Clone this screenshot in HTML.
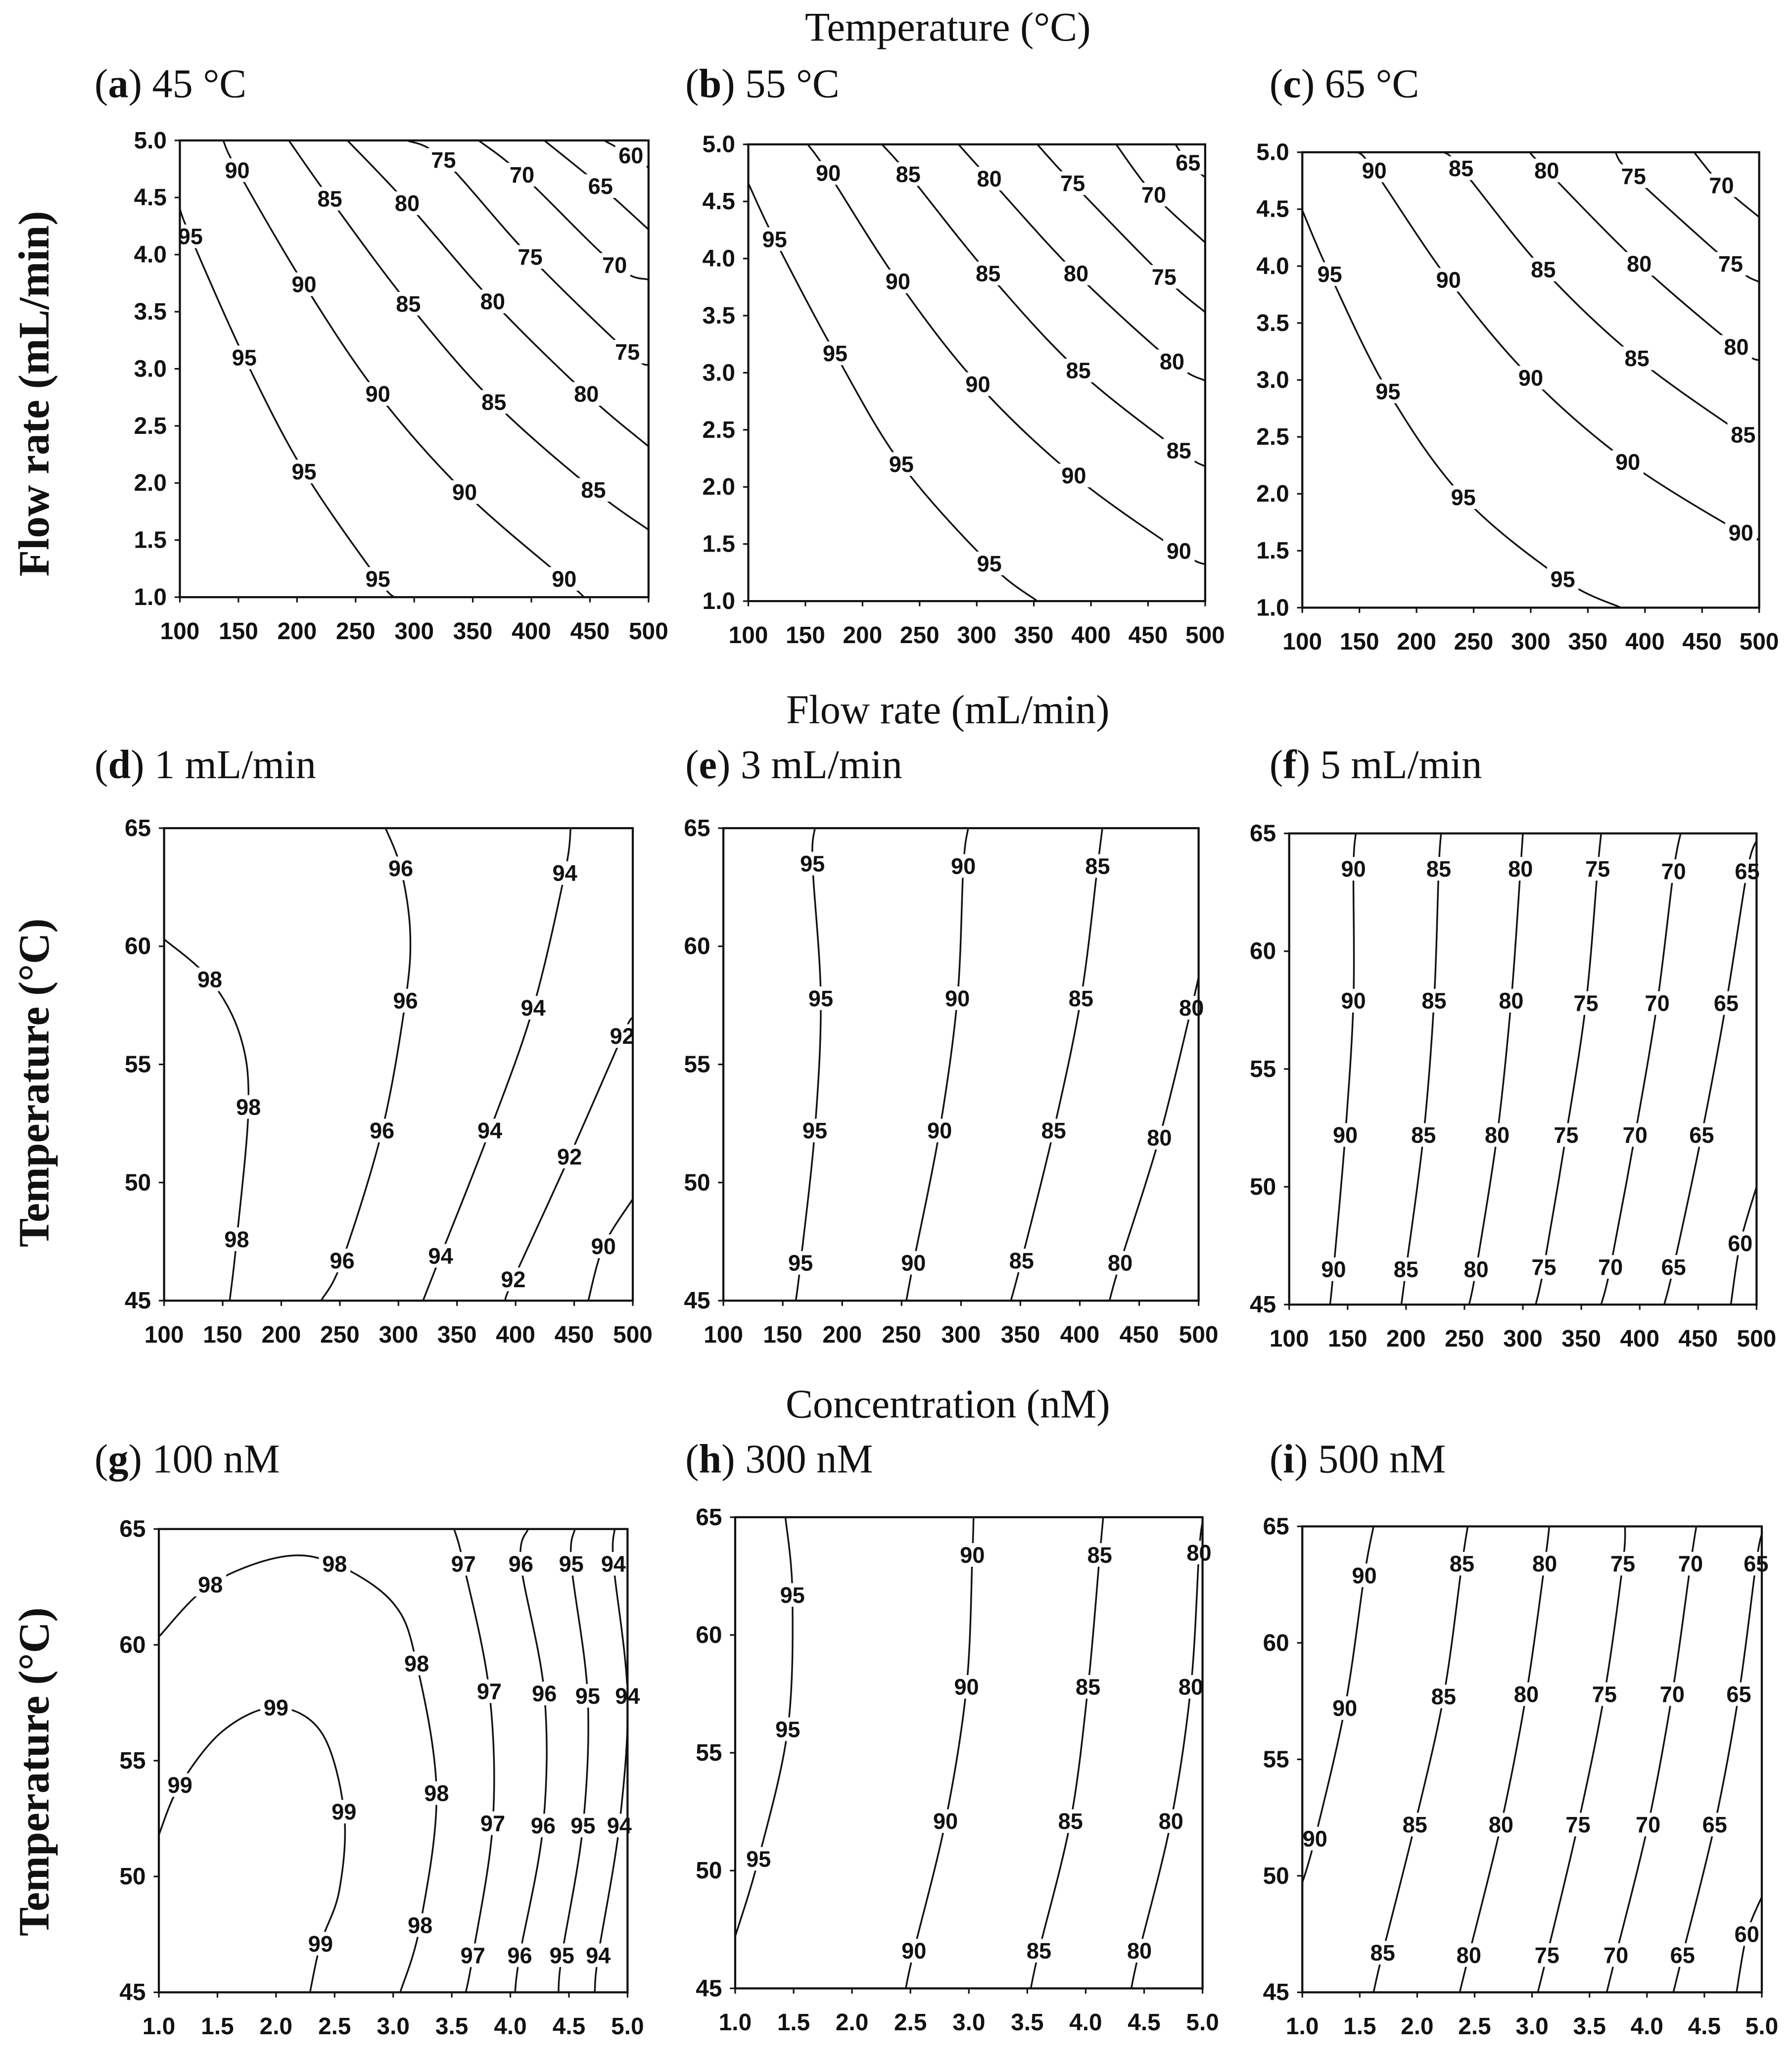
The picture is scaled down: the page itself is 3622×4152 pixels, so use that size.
<!DOCTYPE html>
<html><head><meta charset="utf-8">
<style>
html,body{margin:0;padding:0;background:#fff;}
svg{display:block;}
.tk{font-family:"Liberation Sans",Arial,sans-serif;font-weight:bold;font-size:18px;fill:#111;}
.cl{font-family:"Liberation Sans",Arial,sans-serif;font-weight:bold;font-size:17px;fill:#111;}
.ser{font-family:"Liberation Serif","Times New Roman",serif;fill:#111;}
</style></head>
<body>
<svg id="fig" width="3622" height="4152" viewBox="0 0 1365 1565" preserveAspectRatio="none" xmlns="http://www.w3.org/2000/svg">
<text class="ser" x="722" y="31" font-size="31" text-anchor="middle">Temperature (°C)</text>
<text class="ser" x="722" y="551" font-size="31" text-anchor="middle">Flow rate (mL/min)</text>
<text class="ser" x="722" y="1080" font-size="31" text-anchor="middle">Concentration (nM)</text>
<text class="ser" font-size="33" font-weight="bold" text-anchor="middle" transform="translate(37,300) rotate(-90)">Flow rate (mL/min)</text>
<text class="ser" font-size="33" font-weight="bold" text-anchor="middle" transform="translate(37,825) rotate(-90)">Temperature (°C)</text>
<text class="ser" font-size="33" font-weight="bold" text-anchor="middle" transform="translate(37,1350) rotate(-90)">Temperature (°C)</text>
</svg>
<script>
const xTicksConc = [100,150,200,250,300,350,400,450,500];
const yTicksFlow = [1.0,1.5,2.0,2.5,3.0,3.5,4.0,4.5,5.0];
const yTicksTemp = [45,50,55,60,65];
const xTicksFlow = [1.0,1.5,2.0,2.5,3.0,3.5,4.0,4.5,5.0];

const contoursA = [
 {v:95,pts:[[100,4.4],[109,4.16],[155,3.1],[206,2.1],[269,1.16],[283,1.0]],lab:[1,2,3,4]},
 {v:90,pts:[[137,5],[149,4.74],[206,3.74],[269,2.78],[343,1.92],[428,1.16],[445,1]],lab:[1,2,3,4,5]},
 {v:85,pts:[[193,5],[228,4.49],[295,3.57],[368,2.71],[453,1.94],[500,1.59]],lab:[1,2,3,4]},
 {v:80,pts:[[243,5],[294,4.45],[367,3.59],[447,2.78],[500,2.32]],lab:[1,2,3]},
 {v:75,pts:[[294,5],[325,4.83],[399,3.98],[482,3.15],[500,3.03]],lab:[1,2,3]},
 {v:70,pts:[[355,5],[392,4.7],[471,3.91],[500,3.78]],lab:[1,2]},
 {v:65,pts:[[411,5],[459,4.6],[500,4.22]],lab:[1]},
 {v:60,pts:[[462,5],[485,4.87],[500,4.76]],lab:[1]}
];
const contoursB = [
 {v:95,pts:[[100,4.66],[123,4.17],[176,3.17],[234,2.2],[311,1.33],[353,1]],lab:[1,2,3,4]},
 {v:90,pts:[[152,5],[170,4.75],[231,3.8],[301,2.9],[385,2.1],[477,1.44],[500,1.32]],lab:[1,2,3,4,5]},
 {v:85,pts:[[217,5],[240,4.74],[310,3.87],[389,3.02],[477,2.32],[500,2.18]],lab:[1,2,3,4]},
 {v:80,pts:[[284,5],[311,4.7],[387,3.87],[471,3.1],[500,2.93]],lab:[1,2,3]},
 {v:75,pts:[[353,5],[384,4.66],[464,3.84],[500,3.53]],lab:[1,2]},
 {v:70,pts:[[422,5],[455,4.56],[500,4.14]],lab:[1]},
 {v:65,pts:[[474,5],[485,4.84],[500,4.71]],lab:[1]}
];
const contoursC = [
 {v:95,pts:[[100,4.49],[124,3.93],[175,2.9],[241,1.97],[328,1.25],[379,1]],lab:[1,2,3,4]},
 {v:90,pts:[[149,5],[163,4.84],[228,3.88],[300,3.02],[385,2.28],[484,1.66],[500,1.61]],lab:[1,2,3,4,5]},
 {v:85,pts:[[224,5],[239,4.86],[311,3.97],[393,3.19],[486,2.52],[500,2.44]],lab:[1,2,3,4]},
 {v:80,pts:[[299,5],[314,4.84],[395,4.02],[480,3.29],[500,3.17]],lab:[1,2,3]},
 {v:75,pts:[[374,5],[390,4.79],[475,4.02],[500,3.86]],lab:[1,2]},
 {v:70,pts:[[443,5],[467,4.71],[500,4.43]],lab:[1]}
];
const contoursD = [
 {v:98,pts:[[100,60.3],[139,58.6],[165,56.2],[172,53.2],[162,47.6],[156,45]],lab:[1,3,4]},
 {v:96,pts:[[289,65],[302,63.3],[310,60.6],[306,57.7],[286,52.2],[252,46.7],[234,45]],lab:[1,3,4,5]},
 {v:94,pts:[[447,65],[442,63.1],[415,57.4],[378,52.2],[336,46.9],[321,45]],lab:[1,2,3,4]},
 {v:92,pts:[[500,57],[491,56.2],[446,51.1],[398,45.9],[391,45]],lab:[1,2,3]},
 {v:90,pts:[[500,49.3],[475,47.3],[462,45]],lab:[1]}
];
const contoursE = [
 {v:95,pts:[[177,65],[175,63.5],[182,57.8],[177,52.2],[165,46.6],[161,45]],lab:[1,2,3,4]},
 {v:90,pts:[[306,65],[302,63.4],[297,57.8],[282,52.2],[260,46.6],[254,45]],lab:[1,2,3,4]},
 {v:85,pts:[[419,65],[415,63.4],[401,57.8],[378,52.2],[351,46.7],[342,45]],lab:[1,2,3,4]},
 {v:80,pts:[[500,58.7],[494,57.4],[467,51.9],[434,46.6],[425,45]],lab:[1,2,3]}
];
const contoursF = [
 {v:90,pts:[[157,65],[155,63.5],[155,57.9],[148,52.2],[138,46.5],[135,45]],lab:[1,2,3,4]},
 {v:85,pts:[[230,65],[228,63.5],[224,57.9],[215,52.2],[200,46.5],[196,45]],lab:[1,2,3,4]},
 {v:80,pts:[[300,65],[298,63.5],[290,57.9],[278,52.2],[260,46.5],[254,45]],lab:[1,2,3,4]},
 {v:75,pts:[[367,65],[364,63.5],[354,57.8],[337,52.2],[318,46.6],[311,45]],lab:[1,2,3,4]},
 {v:70,pts:[[435,65],[429,63.4],[415,57.8],[396,52.2],[375,46.6],[367,45]],lab:[1,2,3,4]},
 {v:65,pts:[[500,64.7],[492,63.4],[474,57.8],[453,52.2],[429,46.6],[421,45]],lab:[1,2,3,4]},
 {v:60,pts:[[500,50],[486,47.6],[478,45]],lab:[1]}
];
const contoursG = [
 {v:99,pts:[[1,51.8],[1.18,53.95],[1.55,56.3],[2.0,57.3],[2.39,56.2],[2.58,52.8],[2.54,49.4],[2.38,47.1],[2.29,45]],lab:[1,3,5,7]},
 {v:98,pts:[[1,60.35],[1.44,62.6],[2.05,63.8],[2.5,63.5],[3.0,61.8],[3.2,59.2],[3.37,53.6],[3.23,47.9],[3.06,45]],lab:[1,3,5,6,7]},
 {v:97,pts:[[3.52,65],[3.6,63.5],[3.82,58],[3.85,52.3],[3.68,46.6],[3.62,45]],lab:[1,2,3,4]},
 {v:96,pts:[[4.15,65],[4.09,63.5],[4.29,57.9],[4.28,52.2],[4.08,46.6],[4.04,45]],lab:[1,2,3,4]},
 {v:95,pts:[[4.55,65],[4.52,63.5],[4.66,57.8],[4.62,52.2],[4.44,46.6],[4.41,45]],lab:[1,2,3,4]},
 {v:94,pts:[[4.89,65],[4.88,63.5],[5.0,57.8],[4.93,52.2],[4.75,46.6],[4.72,45]],lab:[1,2,3,4]}
];
const contoursH = [
 {v:95,pts:[[1.43,65],[1.49,61.7],[1.45,56],[1.2,50.5],[1.0,47.2]],lab:[1,2,3]},
 {v:90,pts:[[3.04,65],[3.03,63.4],[2.98,57.8],[2.8,52.1],[2.53,46.6],[2.46,45]],lab:[1,2,3,4]},
 {v:85,pts:[[4.15,65],[4.12,63.4],[4.02,57.8],[3.87,52.1],[3.6,46.6],[3.53,45]],lab:[1,2,3,4]},
 {v:80,pts:[[5.0,64.8],[4.97,63.5],[4.9,57.8],[4.73,52.1],[4.46,46.6],[4.39,45]],lab:[1,2,3,4]}
];
const contoursI = [
 {v:90,pts:[[1.62,65],[1.54,62.9],[1.37,57.2],[1.11,51.6],[1.0,49.7]],lab:[1,2,3]},
 {v:85,pts:[[2.44,65],[2.39,63.4],[2.23,57.7],[1.98,52.2],[1.7,46.7],[1.62,45]],lab:[1,2,3,4]},
 {v:80,pts:[[3.15,65],[3.11,63.4],[2.95,57.8],[2.73,52.2],[2.45,46.6],[2.37,45]],lab:[1,2,3,4]},
 {v:75,pts:[[3.81,65],[3.79,63.4],[3.63,57.8],[3.4,52.2],[3.13,46.6],[3.05,45]],lab:[1,2,3,4]},
 {v:70,pts:[[4.43,65],[4.38,63.4],[4.22,57.8],[4.01,52.2],[3.73,46.6],[3.65,45]],lab:[1,2,3,4]},
 {v:65,pts:[[5.0,64.7],[4.95,63.4],[4.8,57.8],[4.59,52.2],[4.31,46.6],[4.23,45]],lab:[1,2,3,4]},
 {v:60,pts:[[5.0,49.1],[4.87,47.5],[4.78,45]],lab:[1]}
];

const panels = [
 {id:'a',letter:'a',title:' 45 °C',tx:72,ty:74,box:[137,494,107,455],xd:[100,500],yd:[1,5],xt:xTicksConc,yt:yTicksFlow,yf:1,c:contoursA},
 {id:'b',letter:'b',title:' 55 °C',tx:522,ty:74,box:[570,918,110,458],xd:[100,500],yd:[1,5],xt:xTicksConc,yt:yTicksFlow,yf:1,c:contoursB},
 {id:'c',letter:'c',title:' 65 °C',tx:967,ty:74,box:[992,1340,116,463],xd:[100,500],yd:[1,5],xt:xTicksConc,yt:yTicksFlow,yf:1,c:contoursC},
 {id:'d',letter:'d',title:' 1 mL/min',tx:72,ty:593,box:[125,482,631,991],xd:[100,500],yd:[45,65],xt:xTicksConc,yt:yTicksTemp,yf:0,c:contoursD},
 {id:'e',letter:'e',title:' 3 mL/min',tx:522,ty:593,box:[551,913,631,991],xd:[100,500],yd:[45,65],xt:xTicksConc,yt:yTicksTemp,yf:0,c:contoursE},
 {id:'f',letter:'f',title:' 5 mL/min',tx:967,ty:593,box:[982,1338,635,994],xd:[100,500],yd:[45,65],xt:xTicksConc,yt:yTicksTemp,yf:0,c:contoursF},
 {id:'g',letter:'g',title:' 100 nM',tx:72,ty:1122,box:[121,478,1165,1518],xd:[1,5],yd:[45,65],xt:xTicksFlow,yt:yTicksTemp,yf:0,xf:1,c:contoursG},
 {id:'h',letter:'h',title:' 300 nM',tx:522,ty:1122,box:[560,916,1156,1515],xd:[1,5],yd:[45,65],xt:xTicksFlow,yt:yTicksTemp,yf:0,xf:1,c:contoursH},
 {id:'i',letter:'i',title:' 500 nM',tx:967,ty:1122,box:[992,1342,1163,1518],xd:[1,5],yd:[45,65],xt:xTicksFlow,yt:yTicksTemp,yf:0,xf:1,c:contoursI}
];

const NS='http://www.w3.org/2000/svg';
const svg=document.getElementById('fig');
function mk(tag,attrs,parent){const e=document.createElementNS(NS,tag);for(const k in attrs)e.setAttribute(k,attrs[k]);parent.appendChild(e);return e;}
function smooth(p){
 let d='M'+p[0][0].toFixed(2)+','+p[0][1].toFixed(2);
 for(let i=0;i<p.length-1;i++){
  const p0=p[Math.max(i-1,0)],p1=p[i],p2=p[i+1],p3=p[Math.min(i+2,p.length-1)];
  const c1=[p1[0]+(p2[0]-p0[0])/6,p1[1]+(p2[1]-p0[1])/6];
  const c2=[p2[0]-(p3[0]-p1[0])/6,p2[1]-(p3[1]-p1[1])/6];
  d+='C'+c1[0].toFixed(2)+','+c1[1].toFixed(2)+' '+c2[0].toFixed(2)+','+c2[1].toFixed(2)+' '+p2[0].toFixed(2)+','+p2[1].toFixed(2);
 }
 return d;
}
panels.forEach(P=>{
 const g=mk('g',{},svg);
 
 
 const [x0,x1,y0,y1]=P.box;
 const sx=v=>x0+(v-P.xd[0])/(P.xd[1]-P.xd[0])*(x1-x0);
 const sy=v=>y1-(v-P.yd[0])/(P.yd[1]-P.yd[0])*(y1-y0);
 const t=mk('text',{x:P.tx,y:P.ty,class:'ser','font-size':'31'},g);
 
 
 const ts1=document.createElementNS(NS,'tspan');ts1.textContent='(';t.appendChild(ts1);
 const ts2=document.createElementNS(NS,'tspan');ts2.setAttribute('font-weight','bold');ts2.textContent=P.letter;t.appendChild(ts2);
 const ts3=document.createElementNS(NS,'tspan');ts3.textContent=')'+P.title;t.appendChild(ts3);
 const cp=mk('clipPath',{id:'clip'+P.id},g);
 mk('rect',{x:x0,y:y0,width:x1-x0,height:y1-y0},cp);
 const cg=mk('g',{'clip-path':'url(#clip'+P.id+')'},g);
 
 
 const lg=mk('g',{},g);
 P.c.forEach(C=>{
  const pp=C.pts.map(q=>[sx(q[0]),sy(q[1])]);
  const path=mk('path',{d:smooth(pp),fill:'none',stroke:'#111','stroke-width':'1.3'},cg);
  
  
  C.lab.forEach(i=>{
   const [lx,ly]=pp[i];
   const r=mk('rect',{x:lx-12,y:ly-9,width:24,height:18,fill:'#fff'},lg);
   
   
   const tt=mk('text',{x:lx,y:ly+6,class:'cl','text-anchor':'middle'},lg);
   
   
   tt.textContent=String(C.v);
  });
 });
 const box=mk('rect',{x:x0,y:y0,width:x1-x0,height:y1-y0,fill:'none',stroke:'#111','stroke-width':'1.6'},g);
 
 
 P.xt.forEach(v=>{
  const x=sx(v);
  const l=mk('line',{x1:x,x2:x,y1:y1,y2:y1+4,stroke:'#111','stroke-width':'1.2'},g);
  
  
  const tt=mk('text',{x:x,y:y1+32,class:'tk','text-anchor':'middle'},g);
  
  
  tt.textContent=P.xf?v.toFixed(1):String(v);
 });
 P.yt.forEach(v=>{
  const y=sy(v);
  const l=mk('line',{x1:x0-4,x2:x0,y1:y,y2:y,stroke:'#111','stroke-width':'1.2'},g);
  
  
  const tt=mk('text',{x:x0-10,y:y+6,class:'tk','text-anchor':'end'},g);
  
  
  tt.textContent=P.yf?v.toFixed(1):String(v);
 });
});
</script>
</body></html>
